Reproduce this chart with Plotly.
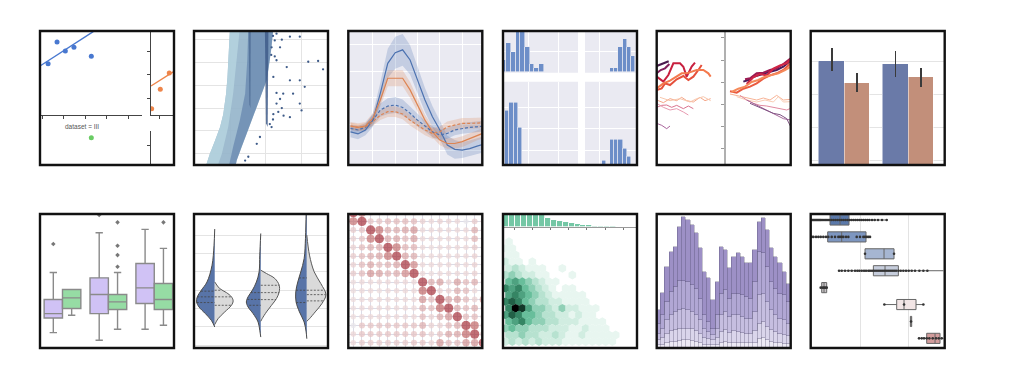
import plotly.graph_objects as go

W, H = 1012, 390

# ==================== DATA ====================
# Panel 1 - Anscombe facets (cropped view)
ans1_x = [4.56, 5.39, 6.16, 6.96, 8.57]
ans1_y = [7.88, 9.95, 9.09, 9.44, 8.58]
ans1_fit_x = [3.81, 8.75]
ans1_fit_y = [7.66, 10.94]
ans2_x = [3.23, 4.03, 4.86]
ans2_y = [5.13, 6.76, 8.14]
ans2_fit_x = [3.17, 5.30]
ans2_fit_y = [7.04, 8.28]
ans3_x = [8.57]
ans3_y = [12.1]
ans_xticks = [4, 6, 8, 10, 12]
ans2_xticks = [4]
ans2_yticks = [6, 8, 10]
ans4_yticks = [0.574]
ans3_title = "dataset = III"

# Panel 2 - diamonds carat vs price (k$): dense clouds as outlines + sparse points
dia_cloud_carat = [0.27, 0.41, 0.555, 0.70, 0.79, 0.87, 0.91, 0.94, 0.98, 2.21, 2.16, 2.11, 2.02, 1.88,
                   1.74, 1.59, 1.45, 1.31, 1.17, 1.12]
dia_cloud_price = [1.0, 3.0, 4.7, 6.5, 8.2, 10.9, 13.1, 15.3, 19.5, 19.5, 17.0, 15.3, 12.65, 10.9,
                   9.1, 7.4, 5.6, 3.9, 2.1, 1.0]
dia_light_carat = [0.27, 0.41, 0.555, 0.70, 0.79, 0.87, 0.91, 0.94, 0.98, 1.26, 1.17, 1.07, 0.93, 0.75, 0.60]
dia_light_price = [1.0, 3.0, 4.7, 6.5, 8.2, 10.9, 13.1, 15.3, 19.5, 19.5, 15.3, 10.9, 6.5, 3.0, 1.0]
dia_dark_carat = [1.50, 2.21, 2.16, 2.11, 2.02, 1.88, 1.74, 1.59, 1.45, 1.31, 1.17, 1.12, 0.93, 1.07,
                  1.26, 1.41, 1.47]
dia_dark_price = [19.5, 19.5, 17.0, 15.3, 12.65, 10.9, 9.1, 7.4, 5.6, 3.9, 2.1, 1.0, 1.0, 3.9, 7.4,
                  10.9, 15.3]
dia_streak1_carat = [1.51, 1.57, 1.56, 1.53]
dia_streak1_price = [19.5, 19.5, 9.0, 9.5]
dia_streak2_carat = [1.97, 2.07, 2.05, 2.00]
dia_streak2_price = [19.5, 19.5, 6.5, 7.0]
dia_out_carat = [2.25, 2.40, 2.68, 2.96, 3.20, 3.48, 3.62, 2.96, 3.10, 2.68, 2.49, 2.30, 2.40, 2.96, 2.68,
                 2.11, 2.21, 3.01, 2.16, 1.83, 1.74, 1.50, 1.41, 2.21, 2.59, 2.77, 2.30, 2.16, 2.30, 2.35,
                 2.45, 2.20, 2.50, 2.20, 2.30, 2.45, 2.15, 2.25]
dia_out_price = [17.9, 17.0, 18.4, 18.4, 15.1, 15.2, 14.1, 12.65, 11.8, 12.65, 10.9, 9.6, 10.2, 9.6, 7.8,
                 6.9, 8.2, 8.7, 6.5, 5.2, 4.3, 2.6, 2.1, 13.1, 14.4, 10.9, 15.3, 17.0, 11.0, 8.5,
                 9.0, 7.5, 8.0, 18.5, 18.8, 18.0, 16.0, 15.8]
dia_grid_x = [1, 2, 3]
dia_grid_y = [3, 6, 9, 12, 15, 18]

# Panel 3 - fMRI-like time series with CI bands
fmri_t = [0, 1, 2, 3, 4, 5, 6, 7, 8, 9, 10, 11, 12, 13, 14, 15, 16, 17, 18]
sig_a_stim = [-0.028, -0.036, -0.021, 0.016, 0.117, 0.230, 0.270, 0.281, 0.243, 0.167, 0.092, 0.029,
              -0.021, -0.078, -0.094, -0.097, -0.091, -0.082, -0.074]
ci_a_stim = [0.02, 0.02, 0.02, 0.025, 0.04, 0.055, 0.06, 0.06, 0.055, 0.05, 0.045, 0.04, 0.035, 0.035,
             0.035, 0.03, 0.03, 0.03, 0.03]
sig_b_stim = [-0.006, -0.011, -0.006, 0.023, 0.092, 0.174, 0.174, 0.174, 0.130, 0.073, 0.016, -0.028,
              -0.059, -0.072, -0.072, -0.065, -0.053, -0.040, -0.031]
ci_b_stim = [0.015, 0.015, 0.015, 0.02, 0.025, 0.03, 0.03, 0.03, 0.03, 0.025, 0.02, 0.02, 0.02, 0.02,
             0.02, 0.02, 0.02, 0.02, 0.02]
sig_a_cue = [-0.015, -0.021, -0.011, 0.016, 0.054, 0.069, 0.073, 0.064, 0.042, 0.016, -0.006, -0.028,
             -0.040, -0.034, -0.021, -0.015, -0.011, -0.009, -0.006]
ci_a_cue = [0.015, 0.015, 0.015, 0.02, 0.025, 0.03, 0.03, 0.03, 0.025, 0.025, 0.02, 0.02, 0.02, 0.02,
            0.02, 0.02, 0.02, 0.02, 0.02]
sig_b_cue = [-0.006, -0.011, -0.009, 0.010, 0.035, 0.048, 0.048, 0.039, 0.016, -0.003, -0.021, -0.034,
             -0.028, -0.009, -0.003, 0.004, 0.004, 0.006, 0.006]
ci_b_cue = [0.012, 0.012, 0.012, 0.015, 0.018, 0.02, 0.02, 0.02, 0.02, 0.02, 0.02, 0.02, 0.02, 0.02,
            0.02, 0.02, 0.02, 0.02, 0.02]
fmri_grid_x = [3, 6, 9, 12, 15]
fmri_grid_y = [-0.1, 0.0, 0.1, 0.2, 0.3]

# Panel 4 - pair grid histograms (bin centres / counts)
pg_tl_x = [493, 507, 521, 535, 549, 563, 577, 591, 605]
pg_tl_n = [3, 7, 5, 10, 10, 6, 2, 1, 2]
pg_tr_x = [816.25, 828.75, 841.25, 853.75, 866.25, 878.75]
pg_tr_n = [1, 1, 6, 8, 6, 4]
pg_bl_x = [489.5, 502.5, 515.5, 528.5, 541.5]
pg_bl_n = [6, 13, 15, 15, 9]
pg_br_x = [791.25, 803.75, 816.25, 828.75, 841.25, 853.75, 866.25]
pg_br_n = [1, 0, 6, 6, 6, 4, 2]

# Panel 5 - two facets of wiggly lines
p5L_x = [[20, 38, 56],
         [20, 32, 45, 58],
         [20, 40, 55, 70, 90, 100, 110, 125, 135],
         [20, 35, 45, 60, 80, 100, 115, 130, 145, 155],
         [20, 40, 60, 80, 95, 110, 125, 140, 160, 175, 182],
         [20, 40, 60, 80, 95, 110, 130, 150, 165, 182],
         [30, 60, 90, 120, 140, 160, 182],
         [20, 35, 50, 65, 80, 100, 115, 130],
         [20, 40, 60, 80, 100, 115],
         [20, 35, 50, 60]]
p5L_y = [[138, 130, 124],
         [160, 150, 145, 132],
         [170, 185, 165, 130, 130, 140, 170, 140, 128],
         [210, 205, 190, 195, 178, 168, 180, 170, 150, 135],
         [205, 190, 182, 168, 160, 160, 155, 150, 150, 160, 170],
         [240, 248, 236, 242, 232, 242, 246, 232, 242, 236],
         [232, 242, 236, 246, 236, 230, 242],
         [262, 256, 255, 262, 256, 266, 258, 266],
         [250, 262, 270, 266, 276, 285],
         [310, 316, 326, 318]]
p5R_x = [[280, 295, 310, 330, 345, 360, 380, 400, 422],
         [285, 300, 320, 340, 360, 380, 400, 422],
         [290, 310, 330, 350, 370, 390, 410, 422],
         [240, 260, 280, 300, 320, 340, 360, 380, 400, 422],
         [245, 265, 285, 305, 325, 345, 365, 385, 405, 422],
         [240, 260, 280, 300, 320, 340, 360, 380, 400, 422],
         [260, 290, 320, 345, 370, 385, 400, 422],
         [270, 290, 310, 330, 350, 370, 390, 410, 422],
         [290, 320, 340, 360, 380, 400, 422],
         [300, 330, 350, 370, 390, 410, 422]]
p5R_y = [[185, 180, 170, 165, 160, 155, 150, 140, 122],
         [178, 175, 160, 158, 150, 145, 132, 115],
         [192, 172, 162, 166, 146, 136, 130, 118],
         [214, 218, 206, 200, 190, 176, 166, 160, 150, 130],
         [216, 206, 200, 186, 180, 170, 165, 160, 150, 140],
         [222, 226, 232, 236, 240, 234, 240, 226, 240, 238],
         [230, 240, 246, 240, 246, 230, 246, 245],
         [226, 240, 250, 256, 258, 262, 266, 270, 265],
         [240, 255, 266, 276, 286, 296, 300],
         [250, 262, 272, 280, 284, 296, 320]]
p5_ticks = [52, 120, 187, 252, 318, 385]

# Panel 6 - grouped bars with CIs
bar_cats = [0, 1]
bar_a = [40.3, 39.3]
bar_a_lo = [37.0, 35.4]
bar_a_hi = [44.1, 43.3]
bar_b = [33.6, 35.2]
bar_b_lo = [30.8, 32.4]
bar_b_hi = [36.4, 38.0]

# Panel 7 - grouped box plots (precomputed stats)
box_groups = [0, 1, 2]
boxA_q1 = [11.2, 12.5, 15.5]
boxA_med = [12.5, 18.2, 20.2]
boxA_q3 = [16.7, 23.2, 27.5]
boxA_lo = [6.8, 4.5, 7.8]
boxA_hi = [24.8, 36.7, 37.7]
boxA_out_g = [0, 1]
boxA_out_v = [33.3, 42.0]
boxB_q1 = [14.0, 13.7, 13.7]
boxB_med = [17.2, 16.0, 16.7]
boxB_q3 = [19.7, 18.2, 21.5]
boxB_lo = [12.0, 7.8, 9.0]
boxB_hi = [19.7, 24.8, 32.0]
boxB_out_g = [1, 1, 1, 1, 2]
boxB_out_v = [39.8, 32.8, 30.0, 26.5, 39.8]

# Panel 8 - split violins: density profiles (value, half width)
vio_L_y = [[7.33, 6.45, 5.36, 4.45, 4.0, 3.64, 3.36, 3.09, 2.73, 2.36, 2.0],
           [7.09, 5.91, 5.0, 4.45, 4.0, 3.64, 3.36, 3.09, 2.73, 2.27, 1.82, 1.45],
           [9.0, 8.15, 6.82, 5.73, 5.0, 4.45, 3.91, 3.36, 2.82, 2.27, 1.73, 1.36]]
vio_L_w = [[0, 0.015, 0.058, 0.167, 0.291, 0.378, 0.393, 0.342, 0.204, 0.073, 0],
           [0, 0.022, 0.036, 0.095, 0.182, 0.276, 0.313, 0.276, 0.167, 0.058, 0.022, 0],
           [0, 0.015, 0.029, 0.058, 0.131, 0.196, 0.24, 0.233, 0.16, 0.058, 0.015, 0]]
vio_R_y = [[4.45, 4.09, 3.87, 3.64, 3.42, 3.18, 2.82, 2.45, 2.13],
           [5.09, 4.91, 4.64, 4.27, 3.91, 3.55, 3.18, 2.82, 2.45, 2.31],
           [7.0, 5.91, 5.0, 4.36, 3.76, 3.27, 2.82, 2.45, 2.31]]
vio_R_w = [[0, 0.109, 0.255, 0.364, 0.40, 0.364, 0.218, 0.073, 0],
           [0, 0.124, 0.305, 0.40, 0.40, 0.342, 0.233, 0.124, 0.029, 0],
           [0, 0.058, 0.16, 0.305, 0.415, 0.327, 0.182, 0.058, 0]]
vio_qL_y = [[3.95, 3.64, 3.33], [3.87, 3.5, 3.18], [4.67, 4.0, 3.33]]
vio_qL_w = [[0.30, 0.378, 0.39], [0.22, 0.29, 0.25], [0.17, 0.23, 0.23]]
vio_qR_y = [[4.0, 3.64, 3.18], [4.27, 3.87, 3.49], [4.0, 3.76, 3.42]]
vio_qR_w = [[0.15, 0.364, 0.364], [0.40, 0.40, 0.33], [0.38, 0.41, 0.36]]
vio_cats = [0, 1, 2]
vio_grid = [1, 2, 3, 4, 5, 6, 7]

# Panel 9 - correlation matrix drawn as dots
corr = [
    [1.0, 0.7, 0.2, 0.15, 0.2, 0.2, 0.15, 0.2, 0.1, 0.1, 0.1, 0.1, 0.1, 0.05, 0.1, 0.1],
    [0.7, 1.0, 0.25, 0.25, 0.3, 0.3, 0.3, 0.3, 0.15, 0.1, 0.15, 0.12, 0.1, -0.05, 0.2, 0.15],
    [0.2, 0.25, 1.0, 0.7, 0.4, 0.4, 0.45, 0.55, 0.1, 0.1, 0.12, 0.1, 0.1, 0.1, 0.4, 0.15],
    [0.15, 0.25, 0.7, 1.0, 0.4, 0.45, 0.3, 0.5, 0.1, 0.1, 0.1, 0.1, 0.1, 0.1, 0.35, 0.15],
    [0.15, 0.3, 0.4, 0.4, 1.0, 0.7, 0.35, 0.35, 0.1, 0.08, 0.1, 0.1, 0.1, 0.1, 0.2, 0.1],
    [0.2, 0.3, 0.4, 0.45, 0.7, 1.0, 0.45, 0.4, 0.1, 0.1, 0.1, 0.1, 0.1, 0.1, 0.15, 0.1],
    [0.15, 0.3, 0.45, 0.3, 0.35, 0.45, 1.0, 0.6, 0.1, 0.1, 0.1, 0.1, 0.1, 0.1, 0.15, 0.1],
    [0.2, 0.3, 0.55, 0.5, 0.35, 0.4, 0.6, 1.0, 0.1, 0.08, 0.1, 0.1, 0.1, 0.1, 0.15, 0.1],
    [0.08, 0.1, 0.1, 0.1, 0.1, 0.1, 0.1, 0.1, 1.0, 0.4, 0.5, 0.15, 0.5, 0.3, 0.4, 0.15],
    [0.08, 0.1, 0.1, 0.08, 0.1, 0.1, 0.1, 0.1, 0.75, 1.0, 0.15, 0.15, 0.4, 0.3, 0.1, 0.1],
    [0.08, 0.1, 0.1, 0.1, 0.1, 0.1, 0.1, 0.1, 0.55, 0.3, 1.0, 0.45, 0.5, 0.3, 0.15, 0.55],
    [0.08, 0.1, 0.1, 0.1, 0.1, 0.1, 0.1, 0.1, 0.4, 0.3, 0.75, 1.0, 0.4, 0.3, 0.4, 0.2],
    [0.08, 0.1, 0.1, 0.1, 0.1, 0.1, 0.1, 0.1, 0.3, 0.15, 0.4, 0.55, 1.0, 0.3, 0.3, 0.2],
    [-0.05, 0.25, 0.25, 0.25, 0.25, 0.25, 0.25, 0.25, 0.4, 0.15, 0.15, 0.3, 0.4, 1.0, 0.75, 0.2],
    [0.12, 0.25, 0.25, 0.25, 0.25, 0.25, 0.25, 0.25, 0.3, 0.15, 0.25, 0.45, 0.45, 0.75, 1.0, 0.3],
    [0.12, 0.2, 0.2, 0.2, 0.2, 0.2, 0.2, 0.25, 0.25, 0.15, 0.55, 0.3, 0.3, 0.55, 0.55, 1.0],
]

# Panel 10 - joint hexbin + top marginal histogram
marg_x = [21, 39, 57, 74, 92, 110, 128, 146, 164, 182, 200, 218, 236, 253, 271, 289, 307, 325, 343]
marg_n = [40, 40, 38, 40, 38, 36, 36, 25, 20, 17, 15, 12, 8, 5, 4, 3, 2, 3, 1]
marg_ticks = [47, 100, 155, 208, 263, 318, 373]
hex_counts = [
    [0, 0, 0, 0, 0, 0, 0, 0, 0, 0, 0, 0, 0, 0, 0, 0, 0, 0, 0, 0],
    [1, 0, 0, 0, 0, 0, 0, 0, 0, 0, 0, 0, 0, 0, 0, 0, 0, 0, 0, 0],
    [1, 1, 0, 0, 0, 0, 0, 0, 0, 0, 0, 0, 0, 0, 0, 0, 0, 0, 0, 0],
    [1, 1, 0, 0, 0, 0, 0, 0, 0, 0, 0, 0, 0, 0, 0, 0, 0, 0, 0, 0],
    [2, 1, 1, 0, 1, 0, 0, 0, 0, 0, 0, 0, 0, 0, 0, 0, 0, 0, 0, 0],
    [2, 3, 2, 1, 1, 1, 0, 0, 1, 0, 0, 0, 0, 0, 0, 0, 0, 0, 0, 0],
    [3, 4, 3, 2, 2, 1, 1, 0, 0, 0, 1, 0, 0, 0, 0, 0, 0, 0, 0, 0],
    [5, 6, 5, 4, 3, 2, 1, 1, 0, 0, 0, 0, 0, 0, 0, 0, 0, 0, 0, 0],
    [7, 6, 7, 5, 4, 3, 2, 1, 0, 1, 1, 0, 0, 0, 0, 0, 0, 0, 0, 0],
    [6, 7, 6, 5, 4, 3, 2, 1, 1, 1, 1, 1, 0, 0, 0, 0, 0, 0, 0, 0],
    [7, 8, 7, 5, 4, 3, 3, 2, 2, 1, 1, 1, 1, 0, 0, 0, 0, 0, 0, 0],
    [7, 10, 9, 6, 4, 4, 3, 2, 4, 2, 2, 1, 1, 1, 0, 0, 0, 0, 0, 0],
    [6, 8, 7, 5, 5, 4, 3, 3, 2, 2, 1, 2, 1, 1, 0, 0, 0, 0, 0, 0],
    [5, 6, 7, 5, 4, 4, 3, 3, 2, 2, 2, 1, 1, 1, 1, 0, 0, 0, 0, 0],
    [4, 5, 4, 4, 3, 3, 3, 2, 2, 2, 1, 1, 2, 1, 1, 1, 0, 0, 0, 0],
    [3, 3, 4, 3, 3, 2, 2, 3, 2, 1, 1, 2, 1, 1, 1, 1, 1, 0, 0, 0],
    [2, 3, 2, 3, 2, 3, 2, 2, 2, 1, 1, 1, 1, 1, 1, 1, 1, 0, 0, 0],
]

# Panel 11 - stacked histogram (5 layers, bottom to top)
hist_bins = [0.5, 1.5, 2.5, 3.5, 4.5, 5.5, 6.5, 7.5, 8.5, 9.5, 10.5, 11.5, 12.5, 13.5, 14.5, 15.5,
             16.5, 17.5, 18.5, 19.5, 20.5, 21.5, 22.5, 23.5, 24.5, 25.5, 26.5, 27.5, 28.5, 29.5, 30.5, 31.5]
hist_l5 = [0.8, 1.0, 1.5, 1.8, 1.8, 2.0, 2.3, 2.3, 2.0, 1.8, 1.5, 1.0, 1.0, 0.8, 1.0, 1.6, 1.8, 1.5, 1.6, 1.6,
           1.5, 1.4, 1.4, 1.6, 2.8, 3.0, 2.3, 1.8, 1.6, 1.4, 1.3, 1.1]
hist_l4 = [1.5, 2.0, 2.8, 3.2, 3.5, 3.6, 3.5, 3.5, 3.6, 3.2, 2.8, 2.0, 1.8, 1.5, 2.0, 3.2, 3.5, 3.1, 3.4, 3.2,
           3.1, 2.9, 2.9, 3.4, 4.5, 4.8, 4.0, 3.5, 3.2, 2.9, 2.7, 2.5]
hist_l3 = [2.0, 2.8, 4.0, 4.8, 5.5, 5.7, 6.0, 5.5, 5.2, 4.8, 4.0, 2.8, 2.0, 1.5, 2.8, 5.0, 5.5, 4.7, 4.8, 5.0,
           4.7, 4.5, 4.5, 5.8, 8.5, 8.5, 7.5, 6.0, 5.0, 4.5, 4.3, 3.7]
hist_l2 = [3.0, 4.0, 5.5, 7.0, 7.5, 8.7, 8.4, 8.5, 8.0, 8.0, 6.5, 4.0, 3.0, 2.0, 4.0, 6.5, 6.5, 5.5, 6.5, 6.5,
           6.5, 6.5, 6.0, 9.0, 13.0, 12.0, 10.5, 8.5, 8.0, 7.5, 7.5, 6.5]
hist_l1 = [4.0, 6.8, 10.5, 12.0, 12.0, 16.3, 19.1, 18.5, 18.0, 16.5, 15.0, 13.0, 13.0, 8.5, 10.0, 14.0, 12.0,
           9.0, 11.0, 12.0, 11.5, 10.0, 10.5, 9.5, 9.0, 10.7, 11.0, 10.0, 9.5, 9.0, 7.0, 5.5]

# Panel 12 - horizontal boxes with observations
hb_rows = [0, 1, 2, 3, 4, 5, 6, 7]
hb_q1 = [70, 63, 175, 200, 45, 270, 311, 360]
hb_med = [100, 105, 232, 235, 52, 292, 313, 385]
hb_q3 = [127, 178, 262, 275, 60, 328, 315, 400]
hb_lo = [12, 15, 175, 97, 42, 233, 310, 337]
hb_hi = [240, 190, 262, 410, 62, 350, 316, 410]
hb_pts = [
    [14, 17, 20, 23, 26, 29, 32, 35, 38, 41, 44, 48, 52, 56, 60, 64, 68, 74, 80, 86, 92, 98, 104, 110, 116,
     122, 128, 134, 140, 146, 152, 158, 164, 170, 176, 182, 188, 196, 204, 214, 226, 240],
    [15, 20, 28, 35, 42, 50, 58, 65, 75, 85, 95, 100, 105, 110, 118, 125, 150, 160, 170, 175, 180, 185, 190],
    [175, 262],
    [97, 105, 115, 125, 135, 145, 152, 158, 165, 172, 178, 185, 190, 196, 202, 208, 214, 220, 226, 232, 238,
     244, 250, 256, 262, 268, 275, 282, 290, 298, 306, 315, 325, 338, 350, 362],
    [42, 48, 52, 56, 60],
    [233, 292, 350],
    [313],
    [337, 345, 352, 360, 368, 378, 388, 396, 405],
]
hb_grid = [160, 305]

# ==================== FIGURE ====================
fig = go.Figure()
axes = {}
shapes = []
cnt = [0]


def add_axes(px0, px1, py0, py1, xr, yr, xk=None, yk=None):
    cnt[0] += 1
    s = '' if cnt[0] == 1 else str(cnt[0])
    base = dict(showgrid=False, zeroline=False, showticklabels=False, ticks='', showline=False)
    xa = dict(base, domain=[px0 / W, px1 / W], range=xr, anchor='y' + s)
    ya = dict(base, domain=[1 - py1 / H, 1 - py0 / H], range=yr, anchor='x' + s)
    if xk:
        xa.update(xk)
    if yk:
        ya.update(yk)
    axes['xaxis' + s] = xa
    axes['yaxis' + s] = ya
    return 'x' + s, 'y' + s


def bg(xn, yn, color='#eaeaf2'):
    shapes.append(dict(type='rect', xref=xn + ' domain', yref=yn + ' domain', x0=0, x1=1, y0=0, y1=1,
                       fillcolor=color, line=dict(width=0), layer='below'))


def add(tr, xn, yn):
    tr.update(xaxis=xn, yaxis=yn, hoverinfo='skip', showlegend=False)
    fig.add_trace(tr)


COLS = [40, 194, 348.3, 503, 656.7, 810.7]
TOP, BOT, SZ = 31, 214, 134
spine = dict(showline=True, linecolor='#444', linewidth=1, ticks='outside', ticklen=3,
             tickcolor='#444', tickwidth=1)
grid_w = dict(showgrid=True, gridcolor='#ffffff', gridwidth=1)
grid_l = dict(showgrid=True, gridcolor='#e4e4e4', gridwidth=1)

# ---- Panel 1 ----
L = COLS[0]
xn, yn = add_axes(L, 142, TOP, 114.7, [3.81, 13.27], [3, 11], xk=dict(spine, tickvals=ans_xticks))
add(go.Scatter(x=ans1_fit_x, y=ans1_fit_y, mode='lines', line=dict(color='#4878d0', width=1.3)), xn, yn)
add(go.Scatter(x=ans1_x, y=ans1_y, mode='markers', marker=dict(color='#4878d0', size=5)), xn, yn)
xn, yn = add_axes(151, L + SZ, TOP, 114.7, [3.17, 5.30], [4.62, 11.69],
                  xk=dict(spine, tickvals=ans2_xticks), yk=dict(spine, tickvals=ans2_yticks))
add(go.Scatter(x=ans2_fit_x, y=ans2_fit_y, mode='lines', line=dict(color='#ee854a', width=1.3)), xn, yn)
add(go.Scatter(x=ans2_x, y=ans2_y, mode='markers', marker=dict(color='#ee854a', size=5)), xn, yn)
xn, yn = add_axes(L, 142, 131.3, TOP + SZ, [3.81, 13.27], [4, 14])
add(go.Scatter(x=ans3_x, y=ans3_y, mode='markers', marker=dict(color='#6acc64', size=5)), xn, yn)
xn, yn = add_axes(151, L + SZ, 131.3, TOP + SZ, [0, 1], [0, 1], yk=dict(spine, tickvals=ans4_yticks))
add(go.Scatter(x=[], y=[], mode='markers'), xn, yn)

# ---- Panel 2 ----
L = COLS[1]
xn, yn = add_axes(L, L + SZ, TOP, TOP + SZ, [-0.04, 3.76], [1.513, 19.146],
                  xk=dict(grid_l, tickvals=dia_grid_x), yk=dict(grid_l, tickvals=dia_grid_y))
for cx, cy, col, op in [(dia_cloud_carat, dia_cloud_price, '#93b4ca', 0.9),
                        (dia_light_carat, dia_light_price, '#b4d3de', 0.9),
                        (dia_dark_carat, dia_dark_price, '#5f80aa', 0.65),
                        (dia_streak1_carat, dia_streak1_price, '#4a6892', 0.75),
                        (dia_streak2_carat, dia_streak2_price, '#3f5c8a', 0.85)]:
    add(go.Scatter(x=cx, y=cy, mode='lines', fill='toself', fillcolor=col, opacity=op,
                   line=dict(width=0)), xn, yn)
add(go.Scatter(x=dia_out_carat, y=dia_out_price, mode='markers',
               marker=dict(color='#3d5a88', size=2.3)), xn, yn)

# ---- Panel 3 ----
L = COLS[2]
xn, yn = add_axes(L, L + SZ, TOP, TOP + SZ, [-0.3, 17.7], [-0.153, 0.352],
                  xk=dict(grid_w, tickvals=fmri_grid_x), yk=dict(grid_w, tickvals=fmri_grid_y))
bg(xn, yn)
for sig, ci, rgba in [(sig_a_stim, ci_a_stim, 'rgba(76,114,176,0.24)'),
                      (sig_b_stim, ci_b_stim, 'rgba(221,132,82,0.24)'),
                      (sig_a_cue, ci_a_cue, 'rgba(76,114,176,0.24)'),
                      (sig_b_cue, ci_b_cue, 'rgba(221,132,82,0.24)')]:
    upper = [m + c for m, c in zip(sig, ci)]
    lower = [m - c for m, c in zip(sig, ci)]
    add(go.Scatter(x=fmri_t + fmri_t[::-1], y=upper + lower[::-1], mode='lines', fill='toself',
                   fillcolor=rgba, line=dict(width=0)), xn, yn)
for sig, col, dash in [(sig_a_stim, '#4c72b0', 'solid'), (sig_b_stim, '#dd8452', 'solid'),
                       (sig_a_cue, '#4c72b0', '3px,2px'), (sig_b_cue, '#dd8452', '3px,2px')]:
    add(go.Scatter(x=fmri_t, y=sig, mode='lines', line=dict(color=col, width=1.2, dash=dash)), xn, yn)

# ---- Panel 4 ----
L = COLS[3]
pg_bar = '#6d8ec8'
sub = [
    (L, 578, TOP, 72.7, [490, 715], [-0.08, 9.92], [565, 655], [4.96], pg_tl_x, pg_tl_n, 14),
    (585, L + SZ, TOP, 72.7, [735, 891], [-0.08, 9.92], [778], [4.96], pg_tr_x, pg_tr_n, 12.5),
    (L, 578, 81.7, TOP + SZ, [490, 715], [0, 20], [565, 655], [3.6, 8.8, 13.84], pg_bl_x, pg_bl_n, 13),
    (585, L + SZ, 81.7, TOP + SZ, [735, 891], [0, 20], [778], [3.6, 8.8, 13.84], pg_br_x, pg_br_n, 12.5),
]
for px0, px1, py0, py1, xr, yr, gx, gy, bx, bn, bw in sub:
    xn, yn = add_axes(px0, px1, py0, py1, xr, yr, xk=dict(grid_w, tickvals=gx), yk=dict(grid_w, tickvals=gy))
    bg(xn, yn)
    add(go.Bar(x=bx, y=bn, width=bw, marker=dict(color=pg_bar, line=dict(color='#eaeaf2', width=0.6))),
        xn, yn)

# ---- Panel 5 ----
L = COLS[4]
p5L_style = [('#4a1a4e', 2.2), ('#82205d', 2.0), ('#c8203f', 2.0), ('#e5503c', 2.0), ('#f47a4e', 2.0),
             ('#f5a688', 1.0), ('#f8c8ae', 1.0), ('#d9738f', 1.0), ('#e79ab0', 1.0), ('#a8639a', 1.0)]
p5R_style = [('#4a1b5a', 2.0), ('#9c1a52', 2.0), ('#cf2645', 2.0), ('#ea5b40', 2.0), ('#f58a5a', 2.0),
             ('#f7b396', 1.0), ('#f9cdb5', 1.0), ('#e08aa0', 1.0), ('#a86a9c', 1.0), ('#7f5383', 1.0)]
xn, yn = add_axes(L, 725, TOP, TOP + SZ, [20, 225], [435, 33])
for lx, ly, (col, w) in zip(p5L_x, p5L_y, p5L_style):
    add(go.Scatter(x=lx, y=ly, mode='lines', line=dict(color=col, width=w)), xn, yn)
xn, yn = add_axes(726, L + SZ, TOP, TOP + SZ, [228, 422], [435, 33],
                  yk=dict(showline=True, linecolor='#b0b0b0', linewidth=2, ticks='outside', ticklen=3,
                          tickcolor='#999', tickvals=p5_ticks))
for lx, ly, (col, w) in zip(p5R_x, p5R_y, p5R_style):
    add(go.Scatter(x=lx, y=ly, mode='lines', line=dict(color=col, width=w)), xn, yn)

# ---- Panel 6 ----
L = COLS[5]
xn, yn = add_axes(L, L + SZ, TOP, TOP + SZ, [-0.53, 1.57], [8.5, 49.3],
                  yk=dict(grid_l, tickvals=[10, 20, 30, 40]))
for vals, lo, hi, off, col in [(bar_a, bar_a_lo, bar_a_hi, -0.2, '#6a7aa8'),
                               (bar_b, bar_b_lo, bar_b_hi, 0.2, '#c28f7a')]:
    add(go.Bar(x=[c + off for c in bar_cats], y=vals, width=0.4,
               marker=dict(color=col, line=dict(color='rgba(255,255,255,0.5)', width=1)),
               error_y=dict(type='data', symmetric=False,
                            array=[h - v for h, v in zip(hi, vals)],
                            arrayminus=[v - l for l, v in zip(lo, vals)],
                            color='#3a3a3a', thickness=1.8, width=0)), xn, yn)

# ---- Panel 7 ----
L = COLS[0]
xn, yn = add_axes(L, L + SZ, BOT, BOT + SZ, [-0.49, 2.43], [2.2, 42.3])
for q1, md, q3, lo, hi, og, ov, off, col in [
        (boxA_q1, boxA_med, boxA_q3, boxA_lo, boxA_hi, boxA_out_g, boxA_out_v, -0.2, '#d0c2f5'),
        (boxB_q1, boxB_med, boxB_q3, boxB_lo, boxB_hi, boxB_out_g, boxB_out_v, 0.2, '#96dca4')]:
    add(go.Box(x=[g + off for g in box_groups], q1=q1, median=md, q3=q3, lowerfence=lo, upperfence=hi,
               width=0.4, fillcolor=col, line=dict(color='#8a8a8a', width=1.4), whiskerwidth=0.4,
               boxpoints=False), xn, yn)
    add(go.Scatter(x=[g + off for g in og], y=ov, mode='markers',
                   marker=dict(symbol='diamond', color='#777', size=3.5)), xn, yn)

# ---- Panel 8 ----
L = COLS[1]
xn, yn = add_axes(L, L + SZ, BOT, BOT + SZ, [-0.45, 2.46], [0.855, 8.15],
                  yk=dict(grid_l, tickvals=vio_grid))
for c, ly, lw, ry, rw in zip(vio_cats, vio_L_y, vio_L_w, vio_R_y, vio_R_w):
    add(go.Scatter(x=[c - w for w in lw], y=ly, mode='lines', fill='toself', fillcolor='#5874a8',
                   line=dict(color='#4a4a4a', width=1, shape='spline')), xn, yn)
    add(go.Scatter(x=[c + w for w in rw], y=ry, mode='lines', fill='toself', fillcolor='#dadada',
                   line=dict(color='#5a5a5a', width=1, shape='spline')), xn, yn)
for c, qly, qlw, qry, qrw in zip(vio_cats, vio_qL_y, vio_qL_w, vio_qR_y, vio_qR_w):
    qx, qy = [], []
    for y, w in zip(qly, qlw):
        qx += [c - w, c, None]
        qy += [y, y, None]
    for y, w in zip(qry, qrw):
        qx += [c, c + w, None]
        qy += [y, y, None]
    add(go.Scatter(x=qx, y=qy, mode='lines', line=dict(color='#444', width=0.8, dash='2px,1.5px')), xn, yn)

# ---- Panel 9 ----
L = COLS[2]
xn, yn = add_axes(L, L + SZ, BOT, BOT + SZ, [-0.577, 14.88], [15.6, 0.154],
                  xk=dict(showgrid=True, gridcolor='#dcdce6', gridwidth=1, tickmode='linear', tick0=0, dtick=1),
                  yk=dict(showgrid=True, gridcolor='#dcdce6', gridwidth=1, tickmode='linear', tick0=0, dtick=1))
cx, cy, cv = [], [], []
for r, row in enumerate(corr):
    for c, v in enumerate(row):
        cx.append(c)
        cy.append(r)
        cv.append(v)
add(go.Scatter(x=cx, y=cy, mode='markers',
               marker=dict(size=[5.0 + 4.3 * abs(v) for v in cv], color=cv, cmin=-1, cmax=1,
                           colorscale=[[0, '#3a6fb0'], [0.45, '#dfe2ec'], [0.5, '#f0e8e8'],
                                       [0.55, '#ecd6d6'], [0.65, '#e2b8b8'], [0.75, '#d69c9c'],
                                       [0.87, '#c26868'], [1, '#a5303a']],
                           line=dict(width=0))), xn, yn)

# ---- Panel 10 ----
L = COLS[3]
xn, yn = add_axes(L, L + SZ, BOT, 226.7, [12, 414], [0, 38],
                  xk=dict(showline=True, linecolor='#999', linewidth=1, ticks='outside', ticklen=2.5,
                          tickcolor='#777', tickvals=marg_ticks))
add(go.Bar(x=marg_x, y=marg_n, width=17.9, marker=dict(color='#74c7a5', line=dict(color='white', width=0.8))),
    xn, yn)
xn, yn = add_axes(L, L + SZ, 228.3, BOT + SZ, [12, 414], [414, 55])
hx, hy, hv = [], [], []
for i, row in enumerate(hex_counts):
    for j, v in enumerate(row):
        if v > 0:
            hx.append(20 + 20 * j + 10 * (i % 2))
            hy.append(75 + 20 * i)
            hv.append(v)
add(go.Scatter(x=hx, y=hy, mode='markers',
               marker=dict(symbol='hexagon', size=8.8, color=hv, cmin=1, cmax=10,
                           colorscale=[[0, '#e8f6f0'], [0.2, '#bfe6d5'], [0.45, '#66bd9a'],
                                       [0.7, '#2d7c5c'], [0.88, '#133d2c'], [1, '#000000']],
                           line=dict(width=0))), xn, yn)

# ---- Panel 11 ----
L = COLS[4]
xn, yn = add_axes(L, L + SZ, BOT, BOT + SZ, [0, 32], [0, 40.1])
for layer, col in [(hist_l5, '#ece9f4'), (hist_l4, '#dad5eb'), (hist_l3, '#c6bee0'),
                   (hist_l2, '#b1a7d4'), (hist_l1, '#9d90c6')]:
    add(go.Bar(x=hist_bins, y=layer, width=1,
               marker=dict(color=col, line=dict(color='rgba(70,65,95,0.5)', width=0.6))), xn, yn)

# ---- Panel 12 ----
L = COLS[5]
xn, yn = add_axes(L, L + SZ, BOT, BOT + SZ, [12, 414], [7.57, -0.355],
                  xk=dict(showgrid=True, gridcolor='#e3e3e3', gridwidth=1, tickvals=hb_grid))
hb_colors = ['#5b79aa', '#7d96c0', '#a6b6d2', '#c6cddc', '#c8c4c6', '#f2e5e5', '#e6caca', '#d29c9c']
for r, q1, md, q3, lo, hi, col in zip(hb_rows, hb_q1, hb_med, hb_q3, hb_lo, hb_hi, hb_colors):
    add(go.Box(y=[r], q1=[q1], median=[md], q3=[q3], lowerfence=[lo], upperfence=[hi], orientation='h',
               width=0.6, fillcolor=col, line=dict(color='#666', width=1), whiskerwidth=0,
               boxpoints=False), xn, yn)
for r, pts in zip(hb_rows, hb_pts):
    add(go.Scatter(x=pts, y=[r] * len(pts), mode='markers', marker=dict(color='#333', size=2.6)), xn, yn)

# ---- panel frames ----
for top in (TOP, BOT):
    for L in COLS:
        shapes.append(dict(type='rect', xref='paper', yref='paper', x0=L / W, x1=(L + SZ) / W,
                           y0=1 - (top + SZ) / H, y1=1 - top / H, line=dict(color='#111', width=2.4),
                           fillcolor='rgba(0,0,0,0)', layer='above'))

fig.update_layout(
    width=W, height=H, margin=dict(l=0, r=0, t=0, b=0),
    paper_bgcolor='white', plot_bgcolor='rgba(0,0,0,0)',
    showlegend=False, barmode='stack', bargap=0, boxmode='overlay',
    shapes=shapes,
    annotations=[dict(text=ans3_title, xref='paper', yref='paper', x=81.5 / W, y=1 - 127 / H,
                      showarrow=False, xanchor='center', yanchor='middle',
                      font=dict(size=6.5, color='#555', family='Liberation Sans, Arial'))],
    **axes,
)

fig.write_html("out.html")
